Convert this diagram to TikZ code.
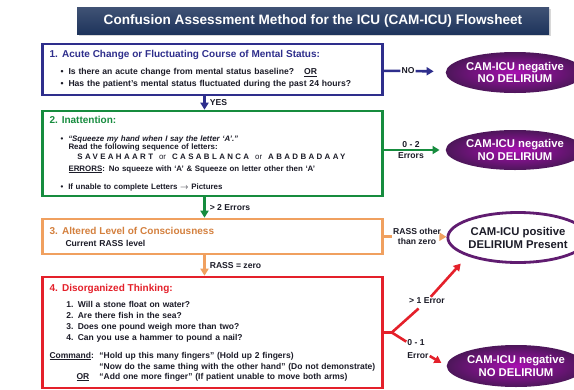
\documentclass[tikz,border=0pt]{standalone}
\usepackage{fontspec}
\setmainfont{Liberation Sans}
\usetikzlibrary{arrows.meta}
\usetikzlibrary{shapes}
\usetikzlibrary{shadows}

\definecolor{navy}{RGB}{30,52,92}
\definecolor{kek}{RGB}{46,46,140}
\definecolor{zold}{RGB}{22,140,62}
\definecolor{narancs}{RGB}{240,160,95}
\definecolor{barna}{RGB}{212,128,62}
\definecolor{piros}{RGB}{228,32,42}
\definecolor{lila}{RGB}{96,28,112}
\definecolor{szoveg}{RGB}{28,28,40}
\newcommand{\head}{\fontsize{10}{11}\selectfont}
\newcommand{\bul}{\textbullet\hspace{5pt}}

\begin{document}
\begin{tikzpicture}[x=1pt,y=-1pt,>={Triangle[length=7pt,width=8pt]},
check/.style={rectangle,draw,line width=2.6pt,fill=white,align=left,inner xsep=7pt,inner ysep=0pt,
  minimum width=340pt,text width=326pt,text=szoveg},
negative/.style={ellipse,minimum width=118pt,minimum height=41pt,inner sep=0pt,shading=radial,
  inner color=lila!55!magenta,outer color=lila!80!black,text=white,align=center,
  font=\fontsize{11.3}{12.5}\selectfont\bfseries},
answer/.style={inner sep=1pt,text=szoveg,align=center,font=\fontsize{8.6}{10}\selectfont\bfseries},
link/.style={line width=2.6pt}]

\pgfmathsetmacro{\arrowshift}{-8}

\path[use as bounding box,fill=white] (0,0) rectangle (574,389);

\node[rectangle,minimum width=472pt,minimum height=27pt,top color=navy!85!white,bottom color=navy,
  drop shadow={shadow xshift=2pt,shadow yshift=-2pt,opacity=.3},text=white,
  font=\fontsize{13.6}{15}\selectfont\bfseries] (title) at (313,20.5)
  {Confusion Assessment Method for the ICU (CAM-ICU) Flowsheet};

% the four features
\node[check,draw=kek,minimum height=51pt,font=\fontsize{8.6}{11}\selectfont\bfseries] (acute) at (212.5,69.5){%
\textcolor{kek}{\head 1. Acute Change or Fluctuating Course of Mental Status:}\\[6pt]
\hspace*{11pt}\bul Is there an acute change from mental status baseline?\hspace{10pt}\underline{OR}\\[0.5pt]
\hspace*{11pt}\bul Has the patient’s mental status fluctuated during the past 24 hours?};

\node[check,draw=zold,minimum height=85pt,font=\fontsize{7.9}{10}\selectfont\bfseries] (inattention) at (212.5,153.5){%
\textcolor{zold}{\head 2. Inattention:}\\[7.5pt]
\hspace*{11pt}\bul\textit{“Squeeze my hand when I say the letter ‘A’.”}\\[-2pt]
\hspace*{19pt}Read the following sequence of letters:\\[0.5pt]
\hspace*{28pt}{\addfontfeature{LetterSpace=30}SAVEAHAART}\hspace{6pt}{\mdseries or}\hspace{6pt}%
{\addfontfeature{LetterSpace=30}CASABLANCA}\hspace{6pt}{\mdseries or}\hspace{6pt}%
{\addfontfeature{LetterSpace=30}ABADBADAAY}\\[1.5pt]
\hspace*{19pt}\underline{ERRORS}: No squeeze with ‘A’ \& Squeeze on letter other then ‘A’\\[8pt]
\hspace*{11pt}\bul If unable to complete Letters $\rightarrow$ Pictures};

\node[check,draw=narancs,minimum height=35pt,font=\fontsize{8.6}{11}\selectfont\bfseries] (consciousness) at (212.5,236.5){%
\textcolor{barna}{\head 3. Altered Level of Consciousness}\\[1pt]
\hspace*{16pt}Current RASS level};

\node[check,draw=piros,minimum height=111pt,font=\fontsize{8.5}{11}\selectfont\bfseries] (thinking) at (212.5,332.5){%
\textcolor{piros}{\head 4. Disorganized Thinking:}\\[5pt]
\hspace*{17pt}1. Will a stone float on water?\\
\hspace*{17pt}2. Are there fish in the sea?\\
\hspace*{17pt}3. Does one pound weigh more than two?\\
\hspace*{17pt}4. Can you use a hammer to pound a nail?\\[7pt]
\mbox{\makebox[50pt][l]{\underline{Command}:}“Hold up this many fingers” (Hold up 2 fingers)}\\
\mbox{\hspace*{50pt}“Now do the same thing with the other hand” (Do not demonstrate)}\\[-1pt]
\mbox{\hspace*{27pt}\makebox[23pt][l]{\underline{OR}}“Add one more finger” (If patient unable to move both arms)}};

% outcomes
\node[negative] (neg-acute) at (515,72.5){CAM-ICU negative\\NO DELIRIUM};
\node[negative,minimum height=40pt] (neg-inattention) at (515,150){CAM-ICU negative\\NO DELIRIUM};
\node[ellipse,draw=lila,line width=2.8pt,fill=white,minimum width=116pt,minimum height=50pt,inner sep=0pt,
  align=center,text=szoveg,font=\fontsize{11.3}{13}\selectfont\bfseries] (positive) at (518,237.5)
  {CAM-ICU positive\\DELIRIUM Present};
\node[negative,minimum height=42pt] (neg-thinking) at (516,366){CAM-ICU negative\\NO DELIRIUM};

% labels on the right
\node[answer] (no) at (408,71){NO};
\node[answer] (rass-other) at (417,236.5){RASS other\\than zero};
\node[answer] (gt-one) at (427,301){> 1 Error};
\node[answer,align=left] (zero-one) at (418,349){0 - 1\\[3pt]Error};
\coordinate (fork) at ([xshift=8pt]thinking.east);

\begin{scope}[link,->]
\draw[kek] ([xshift=\arrowshift pt]acute.south)--([xshift=\arrowshift pt]inattention.north)
  node[answer,midway,right,xshift=3pt] (yes){YES};
\draw[zold] ([xshift=\arrowshift pt]inattention.south)--([xshift=\arrowshift pt]consciousness.north)
  node[answer,midway,right,xshift=3pt] (gt-two){> 2 Errors};
\draw[narancs] ([xshift=\arrowshift pt]consciousness.south)--([xshift=\arrowshift pt]thinking.north)
  node[answer,midway,right,xshift=3pt] (rass-zero){RASS = zero};
\draw[kek,shorten >=12pt] (acute)--(no)--(neg-acute);
\draw[zold,shorten >=6pt] (inattention.east |- neg-inattention)--(neg-inattention)
  node[answer,pos=.44,above] (zero-two){0 - 2} node[answer,pos=.44,below] (errors){Errors};
\draw[narancs] (consciousness)--(rass-other)--(positive);
\draw[piros,-,shorten >=5pt] (thinking.east)--(fork)--(gt-one);
\draw[piros,shorten >=10pt] (gt-one)--(positive.south west);
\draw[piros,-] (fork)--(zero-one);
\draw[piros,shorten >=6pt] (zero-one)--(neg-thinking.west);
\end{scope}

\end{tikzpicture}
\end{document}
